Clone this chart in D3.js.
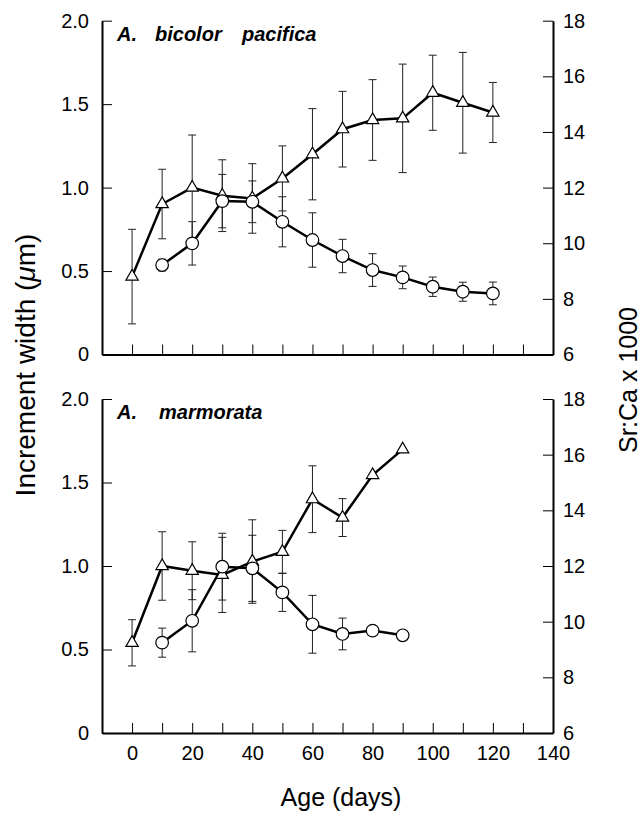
<!DOCTYPE html>
<html>
<head>
	<title>Increment width and Sr:Ca</title>
	<meta charset='utf-8'>
	<style>
		body {
			margin: 0;
			background: #fff;
		}

		svg {
			font-family: 'Liberation Sans', Arial, sans-serif;
		}

		.axis path.domain {
			stroke: #000;
			stroke-width: 2px;
		}

		.tick > line {
			stroke: #000;
			stroke-width: 1px;
		}

		.tick > text {
			fill: #000;
			font-size: 20px;
			font-family: 'Liberation Sans', Arial, sans-serif;
		}

		.line {
			fill: none;
			stroke: #000;
			stroke-width: 2.5px;
		}

		.err {
			stroke: #222;
			stroke-width: 1px;
		}

		.marker {
			fill: #fff;
			stroke: #000;
			stroke-width: 1.2px;
		}

		.title {
			font-size: 20px;
			font-weight: bold;
			font-style: italic;
		}

		.label {
			font-size: 25px;
		}
	</style>
</head>
<body>

<script src='https://d3js.org/d3.v7.min.js'></script>
<script>
	'use strict';

	// A. bicolor pacifica
	const bicolorSrDays = [0, 10, 20, 30, 40, 50, 60, 70, 80, 90, 100, 110, 120];
	const bicolorSr = [8.8, 11.41, 12.0, 11.71, 11.61, 12.33, 13.2, 14.1, 14.43, 14.49, 15.41, 15.05, 14.7];
	const bicolorSrSd = [1.7, 1.25, 1.89, 1.29, 1.25, 1.17, 1.64, 1.36, 1.45, 1.95, 1.35, 1.81, 1.08];
	const bicolorWidthDays = [10, 20, 30, 40, 50, 60, 70, 80, 90, 100, 110, 120];
	const bicolorWidth = [0.536, 0.666, 0.919, 0.915, 0.795, 0.686, 0.59, 0.506, 0.462, 0.406, 0.376, 0.366];
	const bicolorWidthSd = [0.035, 0.13, 0.16, 0.125, 0.15, 0.163, 0.1, 0.098, 0.068, 0.058, 0.057, 0.068];

	// A. marmorata
	const marmorataSrDays = [0, 10, 20, 30, 40, 50, 60, 70, 80, 90];
	const marmorataSr = [9.24, 12.0, 11.83, 11.68, 12.16, 12.51, 14.4, 13.74, 15.27, 16.19];
	const marmorataSrSd = [0.83, 1.23, 1.04, 1.35, 1.5, 0.77, 1.2, 0.68, null, null];
	const marmorataWidthDays = [10, 20, 30, 40, 50, 60, 70, 80, 90];
	const marmorataWidth = [0.541, 0.672, 0.996, 0.986, 0.842, 0.651, 0.593, 0.613, 0.585];
	const marmorataWidthSd = [0.087, 0.186, 0.2, 0.198, 0.114, 0.173, 0.095, null, null];

	const xTicks = [0, 10, 20, 30, 40, 50, 60, 70, 80, 90, 100, 110, 120, 130];
	const xLabels = [0, 20, 40, 60, 80, 100, 120, 140];
	const widthTicks = [0, 0.5, 1.0, 1.5, 2.0];
	const srTicks = [6, 8, 10, 12, 14, 16, 18];

	const W = 641;
	const H = 818;

	const svg = d3.select('body').append('svg')
		.attr('width', W)
		.attr('height', H);

	const xScale = d3.scaleLinear().domain([-10, 140]).range([102, 553]);

	function zip(days, vals, sds) {
		return days.map(function(d, i) {
			return {day: d, v: vals[i], sd: sds[i]};
		});
	}

	function drawPanel(p) {
		const yW = d3.scaleLinear().domain([0, 2]).range([p.bottom, p.top]);
		const yS = d3.scaleLinear().domain([6, 18]).range([p.bottom, p.top]);

		const g = svg.append('g');

		// оси
		g.append('g')
			.attr('class', 'axis')
			.attr('transform', 'translate(' + xScale(-10) + ',0)')
			.call(d3.axisLeft(yW)
				.tickValues(widthTicks)
				.tickFormat(function(d) {return d === 0 ? '0' : d3.format('.1f')(d);})
				.tickSizeInner(-10)
				.tickSizeOuter(0)
				.tickPadding(13));

		g.append('g')
			.attr('class', 'axis')
			.attr('transform', 'translate(' + xScale(140) + ',0)')
			.call(d3.axisRight(yS)
				.tickValues(srTicks)
				.tickSizeInner(-10)
				.tickSizeOuter(0)
				.tickPadding(10));

		g.append('g')
			.attr('class', 'axis')
			.attr('transform', 'translate(0,' + p.bottom + ')')
			.call(d3.axisBottom(xScale)
				.tickValues(xTicks)
				.tickSizeInner(-10)
				.tickSizeOuter(0)
				.tickFormat(''));

		if (p.labels) {
			g.append('g')
				.attr('class', 'axis')
				.attr('transform', 'translate(0,' + p.bottom + ')')
				.call(d3.axisBottom(xScale)
					.tickValues(xLabels)
					.tickSize(0)
					.tickPadding(13))
				.select('.domain').remove();
		}

		// заголовок
		p.title.forEach(function(t) {
			g.append('text')
				.attr('class', 'title')
				.attr('x', t.x)
				.attr('y', p.top + 20)
				.text(t.text);
		});

		const sr = zip(p.srDays, p.sr, p.srSd);
		const wd = zip(p.wDays, p.w, p.wSd);

		function errBars(data, y) {
			const withSd = data.filter(function(d) {return d.sd != null;});
			const eg = g.append('g');
			eg.selectAll('.err-v').data(withSd).enter().append('line')
				.attr('class', 'err')
				.attr('x1', function(d) {return xScale(d.day);})
				.attr('x2', function(d) {return xScale(d.day);})
				.attr('y1', function(d) {return y(d.v - d.sd);})
				.attr('y2', function(d) {return y(d.v + d.sd);});
			[-1, 1].forEach(function(s) {
				eg.selectAll('.cap' + s).data(withSd).enter().append('line')
					.attr('class', 'err')
					.attr('x1', function(d) {return xScale(d.day) - 4;})
					.attr('x2', function(d) {return xScale(d.day) + 4;})
					.attr('y1', function(d) {return y(d.v + s * d.sd);})
					.attr('y2', function(d) {return y(d.v + s * d.sd);});
			});
		}

		errBars(sr, yS);
		errBars(wd, yW);

		g.append('path')
			.datum(sr)
			.attr('class', 'line')
			.attr('d', d3.line()
				.x(function(d) {return xScale(d.day);})
				.y(function(d) {return yS(d.v);}));

		g.append('path')
			.datum(wd)
			.attr('class', 'line')
			.attr('d', d3.line()
				.x(function(d) {return xScale(d.day);})
				.y(function(d) {return yW(d.v);}));

		g.selectAll('.tri').data(sr).enter().append('path')
			.attr('class', 'marker')
			.attr('transform', function(d) {
				return 'translate(' + xScale(d.day) + ',' + yS(d.v) + ')';
			})
			.attr('d', d3.symbol().type(d3.symbolTriangle).size(66));

		g.selectAll('.circ').data(wd).enter().append('circle')
			.attr('class', 'marker')
			.attr('cx', function(d) {return xScale(d.day);})
			.attr('cy', function(d) {return yW(d.v);})
			.attr('r', 6.3);
	}

	drawPanel({
		top: 20.7, bottom: 354.5, labels: false,
		title: [{x: 117, text: 'A.'}, {x: 155, text: 'bicolor'}, {x: 242, text: 'pacifica'}],
		srDays: bicolorSrDays, sr: bicolorSr, srSd: bicolorSrSd,
		wDays: bicolorWidthDays, w: bicolorWidth, wSd: bicolorWidthSd
	});

	drawPanel({
		top: 399, bottom: 733, labels: true,
		title: [{x: 117, text: 'A.'}, {x: 159, text: 'marmorata'}],
		srDays: marmorataSrDays, sr: marmorataSr, srSd: marmorataSrSd,
		wDays: marmorataWidthDays, w: marmorataWidth, wSd: marmorataWidthSd
	});

	// подписи осей
	const yLab = svg.append('text')
		.attr('class', 'label')
		.attr('text-anchor', 'middle')
		.attr('transform', 'translate(35,365) rotate(-90)')
		.style('font-size', '28px');
	yLab.append('tspan').text('Increment width (');
	yLab.append('tspan').style('font-style', 'italic').text('μ');
	yLab.append('tspan').text('m)');

	svg.append('text')
		.attr('class', 'label')
		.attr('text-anchor', 'middle')
		.attr('transform', 'translate(637,380) rotate(-90)')
		.text('Sr:Ca x 1000');

	svg.append('text')
		.attr('class', 'label')
		.attr('text-anchor', 'middle')
		.attr('x', 341)
		.attr('y', 806)
		.text('Age (days)');
</script>
</body>
</html>
